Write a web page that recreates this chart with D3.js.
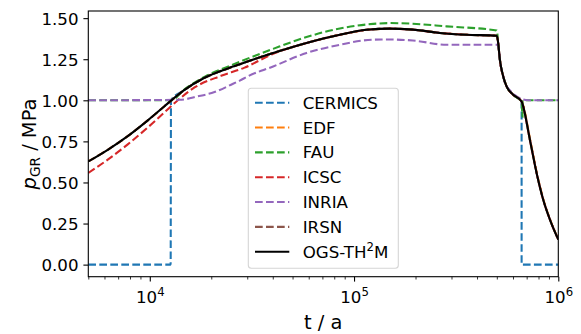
<!DOCTYPE html>
<html><head><meta charset="utf-8">
<script src="https://cdn.jsdelivr.net/npm/d3@7"></script>
<style>body{margin:0;background:#fff}svg{display:block}</style>
</head><body>
<svg id="c" width="581" height="334"></svg>
<script>
// ---- data ----
const seriesNames = ["CERMICS","EDF","FAU","ICSC","INRIA","IRSN","OGS-TH²M"];
const seriesColors = ["#1f77b4","#ff7f0e","#2ca02c","#d62728","#9467bd","#8c564b","#000000"];

const tOGS = [5000,6225,7800,9780,11800,12710,14790,18530,24100,27590,40170,58530,85210,115100,149700,194100,263200,355500,500000,507800,517600,537400,558300,601300,661200,673200,726000,782900,843700,910000,1000000];
const pOGS = [0.628,0.699,0.782,0.878,0.964,0.998,1.063,1.137,1.194,1.220,1.288,1.349,1.399,1.429,1.436,1.43,1.41,1.399,1.393,1.348,1.247,1.145,1.085,1.034,0.993,0.963,0.76,0.558,0.395,0.274,0.152];

const tEDF = [5000,6225,7800,9780,11800,12710,14790,18530,24100,27590,40170,58530,85210,115100,149700,194100,263200,355500,500000,507800,517600,537400,558300,601300,661200,675000,728000,785000,846000,912000,1000000];
const pEDF = [0.628,0.699,0.782,0.878,0.964,0.998,1.063,1.137,1.194,1.220,1.288,1.349,1.399,1.429,1.436,1.43,1.41,1.399,1.393,1.348,1.247,1.145,1.085,1.034,0.993,0.963,0.76,0.558,0.395,0.274,0.155];

const tIRSN = [5000,6225,7800,9780,11800,12710,14790,18530,24100,27590,40170,58530,85210,115100,149700,194100,263200,355500,500000,507800,517600,537400,558300,601300,661200,673200,726000,782900,843700,910000,1000000];
const pIRSN = [0.628,0.699,0.782,0.878,0.964,0.998,1.063,1.137,1.194,1.220,1.288,1.349,1.399,1.429,1.436,1.43,1.41,1.399,1.393,1.348,1.247,1.145,1.085,1.034,0.993,0.963,0.76,0.558,0.395,0.274,0.152];

const tCERMICS = [5000,12650,12700,14790,18530,24100,27590,40170,58530,85210,115100,149700,194100,263200,355500,500000,507800,517600,537400,558300,601300,661200,661300,1000000];
const pCERMICS = [0,0,1.0,1.063,1.137,1.194,1.220,1.288,1.349,1.399,1.429,1.436,1.43,1.41,1.399,1.393,1.348,1.247,1.145,1.085,1.034,0.99,0,0];

const tFAU = [5000,12710,14790,18530,24100,27590,40170,58530,85210,124000,149700,194100,283800,500000,507800,517600,537400,558300,601300,661200,668000,668500,1000000];
const pFAU = [1.0,1.0,1.066,1.143,1.205,1.235,1.313,1.385,1.437,1.465,1.47,1.466,1.45,1.425,1.348,1.247,1.145,1.085,1.034,0.99,0.90,1.0,1.0];

const tICSC = [5000,6225,7800,9780,11800,13710,16560,22340,29120,40170,58530,85210,115100,149700,194100,263200,355500,500000,507800,517600,537400,558300,601300,661200,673200,726000,782900,843700,910000,1000000];
const pICSC = [0.558,0.639,0.732,0.835,0.927,1.0,1.078,1.149,1.199,1.283,1.349,1.399,1.429,1.436,1.43,1.41,1.399,1.393,1.348,1.247,1.145,1.085,1.034,0.993,0.963,0.76,0.558,0.395,0.274,0.152];

const tINRIA = [5000,14000,17170,20740,25000,27590,30200,40170,58530,85210,124000,149700,194100,283800,500000,510000,517600,537400,558300,712000,1000000];
const pINRIA = [1.0,1.003,1.024,1.05,1.095,1.12,1.146,1.206,1.288,1.338,1.369,1.37,1.364,1.338,1.338,1.32,1.247,1.145,1.085,1.0,1.0];

const xTicks = [1e4,1e5,1e6];
const xTickExp = ["4","5","6"];
const yTicks = [0,0.25,0.5,0.75,1.0,1.25,1.5];
const yTickLabels = ["0.00","0.25","0.50","0.75","1.00","1.25","1.50"];

// ---- chart ----
const svg = d3.select("#c");
const L=88.3,R=558.3,T=11,B=276.7;
const x = d3.scaleLog().domain([5000,1e6]).range([L,R]);
const y = d3.scaleLinear().domain([-0.0735,1.5435]).range([B,T]);
const FONT = "DejaVu Sans, sans-serif";

const series = [
  [tCERMICS,pCERMICS],[tEDF,pEDF],[tFAU,pFAU],[tICSC,pICSC],[tINRIA,pINRIA],[tIRSN,pIRSN],[tOGS,pOGS]
];

svg.append("clipPath").attr("id","clip").append("rect").attr("x",L).attr("y",T).attr("width",R-L).attr("height",B-T);
const line = d3.line().x(d=>x(d[0])).y(d=>y(d[1])).curve(d3.curveMonotoneX);
const g = svg.append("g").attr("clip-path","url(#clip)");
series.forEach((s,i)=>{
  const pts = s[0].map((t,j)=>[t,s[1][j]]);
  g.append("path").attr("d",line(pts)).attr("fill","none")
    .attr("stroke",seriesColors[i]).attr("stroke-width",2.08)
    .attr("stroke-dasharray", i<6 ? "7.7,3.3" : null);
});

// axes
const minor = [];
[1e3,1e4,1e5].forEach(dec=>{for(let k=2;k<=9;k++){const v=k*dec; if(v>=5000&&v<1e6&&v!==1e4&&v!==1e5) minor.push(v);}});
svg.append("g").attr("transform",`translate(0,${B})`)
  .call(d3.axisBottom(x).tickValues(minor).tickSize(2.8).tickFormat(""))
  .call(a=>{a.select(".domain").remove(); a.selectAll("line").attr("stroke","#000").attr("stroke-width",0.8);});
const xa = svg.append("g").attr("transform",`translate(0,${B})`)
  .call(d3.axisBottom(x).tickValues(xTicks).tickSize(4.9).tickPadding(4.9).tickFormat(""));
xa.select(".domain").remove();
xa.selectAll("line").attr("stroke","#000").attr("stroke-width",1.1);
xa.selectAll(".tick").each(function(d,i){
  const t = d3.select(this).append("text").attr("fill","#000").attr("y",26.8)
    .attr("font-family",FONT).attr("font-size",16.67).attr("text-anchor","middle");
  t.append("tspan").text("10");
  t.append("tspan").attr("font-size",11.7).attr("dy",-7).text(xTickExp[i]);
});
const ya = svg.append("g").attr("transform",`translate(${L},0)`)
  .call(d3.axisLeft(y).tickValues(yTicks).tickSize(4.9).tickPadding(4.9).tickFormat((d,i)=>yTickLabels[i]));
ya.select(".domain").remove();
ya.selectAll("line").attr("stroke","#000").attr("stroke-width",1.1);
ya.selectAll("text").attr("fill","#000").attr("font-family",FONT).attr("font-size",16.67).attr("dy","0.36em");

svg.append("rect").attr("x",L).attr("y",T).attr("width",R-L).attr("height",B-T)
  .attr("fill","none").attr("stroke","#000").attr("stroke-width",1.1);

// labels
svg.append("text").attr("x",(L+R)/2).attr("y",329).attr("text-anchor","middle")
  .attr("font-family",FONT).attr("font-size",19.44).attr("fill","#000").text("t / a");
const yl = svg.append("text").attr("transform","translate(36,144) rotate(-90)").attr("text-anchor","middle")
  .attr("font-family",FONT).attr("font-size",19.44).attr("fill","#000");
yl.append("tspan").attr("font-style","italic").text("p");
yl.append("tspan").attr("font-size",13.6).attr("dy",4).text("GR");
yl.append("tspan").attr("dy",-4).text(" / MPa");

// legend
const lg = svg.append("g");
lg.append("rect").attr("x",248.3).attr("y",88.3).attr("width",150).attr("height",180).attr("rx",3)
  .attr("fill","#fff").attr("fill-opacity",0.8).attr("stroke","#d5d5d5").attr("stroke-width",1.1);
seriesNames.forEach((n,i)=>{
  const cy = 102.7 + i*24.83;
  lg.append("line").attr("x1",255).attr("x2",289.3).attr("y1",cy).attr("y2",cy)
    .attr("stroke",seriesColors[i]).attr("stroke-width",2.08).attr("stroke-dasharray", i<6 ? "7.7,3.3":null);
  const t = lg.append("text").attr("x",302.7).attr("y",cy+6).attr("font-family",FONT).attr("font-size",16.67).attr("fill","#000");
  if (n.includes("²")) {
    t.append("tspan").text("OGS-TH");
    t.append("tspan").attr("font-size",11.7).attr("dy",-7).text("2");
    t.append("tspan").attr("dy",7).text("M");
  } else t.text(n);
});
</script>
</body></html>
